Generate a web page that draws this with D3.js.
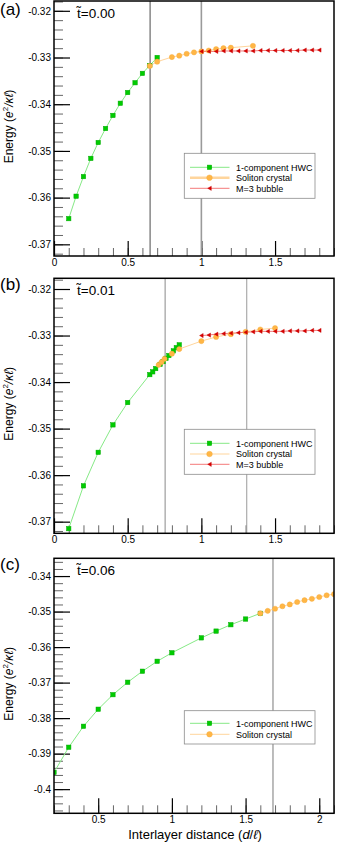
<!DOCTYPE html>
<html><head><meta charset="utf-8">
<script src="https://cdn.jsdelivr.net/npm/d3@7"></script>
<style>
body{margin:0;background:#fff}
svg{display:block}
text{font-family:"Liberation Sans",Arial,Helvetica,sans-serif;fill:#000}
</style>
</head><body>
<svg id="chart" width="337" height="844"></svg>
<script>
// ---------- data ----------
const seriesNames = ["1-component HWC", "Soliton crystal", "M=3 bubble"];
const panelLabels = ["(a)", "(b)", "(c)"];
const tValues = ["0.00", "0.01", "0.06"];

// panel (a), t = 0.00
const hwcA_x = [0.1,0.15,0.2,0.25,0.3,0.35,0.4,0.45,0.5,0.55,0.6,0.65,0.7];
const hwcA_y = [-0.3645,-0.3597,-0.3555,-0.3516,-0.3482,-0.3452,-0.3424,-0.3398,-0.3375,-0.3354,-0.3334,-0.3317,-0.3300];
const solA_x = [0.65,0.7,0.8,0.85,0.9,0.95,1.0,1.05,1.1,1.15,1.2,1.35];
const solA_y = [-0.3318,-0.3309,-0.3299,-0.3296,-0.3292,-0.3289,-0.3287,-0.3285,-0.3282,-0.3280,-0.3279,-0.3275];
const bubA_x = [1.0,1.05,1.1,1.15,1.2,1.25,1.3,1.35,1.4,1.45,1.5,1.55,1.6,1.65,1.7,1.75,1.8];
const bubA_y = [-0.3287,-0.3287,-0.3287,-0.3286,-0.3286,-0.3286,-0.3286,-0.3286,-0.3285,-0.3285,-0.3285,-0.3285,-0.3285,-0.3285,-0.3284,-0.3284,-0.3284];
const vlinesA = [0.652, 1.0];

// panel (b), t = 0.01
const hwcB_x = [0.1,0.2,0.3,0.4,0.5,0.65,0.67,0.69,0.72,0.74,0.76,0.78,0.81,0.83,0.85];
const hwcB_y = [-0.3715,-0.3623,-0.3551,-0.3492,-0.3444,-0.3384,-0.3378,-0.3371,-0.3362,-0.3356,-0.3349,-0.3343,-0.3333,-0.3326,-0.3320];
const solB_x = [0.71,0.73,0.75,0.8,0.85,1.0,1.1,1.2,1.3,1.4,1.5];
const solB_y = [-0.3363,-0.3357,-0.3350,-0.3339,-0.3329,-0.3312,-0.3303,-0.3297,-0.3292,-0.3287,-0.3284];
const bubB_x = [1.0,1.05,1.1,1.15,1.2,1.25,1.3,1.35,1.4,1.45,1.5,1.55,1.6,1.65,1.7,1.75,1.8];
const bubB_y = [-0.3300,-0.3299,-0.3297,-0.3296,-0.3295,-0.3294,-0.3293,-0.3292,-0.3291,-0.3291,-0.3291,-0.3291,-0.3290,-0.3290,-0.3290,-0.3289,-0.3289];
const vlinesB = [0.754, 1.308];

// panel (c), t = 0.06
const hwcC_x = [0.2,0.3,0.4,0.5,0.6,0.7,0.8,0.9,1.0,1.2,1.3,1.4,1.5,1.6];
const hwcC_y = [-0.3953,-0.3882,-0.3823,-0.3775,-0.3734,-0.3699,-0.3668,-0.3640,-0.3616,-0.3574,-0.3555,-0.3537,-0.3521,-0.3505];
const solC_x = [1.6,1.65,1.7,1.75,1.8,1.85,1.9,1.95,2.0,2.05,2.1];
const solC_y = [-0.3505,-0.3498,-0.3492,-0.3485,-0.3480,-0.3473,-0.3468,-0.3464,-0.3459,-0.3454,-0.3451];
const vlinesC = [1.686];

// ticks
const xTicksAB = [0, 0.5, 1, 1.5];
const xTickLabelsAB = ["0", "0.5", "1", "1.5"];
const xTicksC = [0.5, 1, 1.5, 2];
const xTickLabelsC = ["0.5", "1", "1.5", "2"];
const yTicksAB = [-0.37, -0.36, -0.35, -0.34, -0.33, -0.32];
const yTickLabelsAB = ["-0.37", "-0.36", "-0.35", "-0.34", "-0.33", "-0.32"];
const yTicksC = [-0.40, -0.39, -0.38, -0.37, -0.36, -0.35, -0.34];
const yTickLabelsC = ["-0.4", "-0.39", "-0.38", "-0.37", "-0.36", "-0.35", "-0.34"];

// ---------- styling / layout ----------
const style = {
  hwc: {line:"#86e986", fill:"#00cc00", stroke:"#00a800", shape:"square"},
  sol: {line:"#ffd59c", fill:"#ffb646", stroke:"#f5a838", shape:"circle"},
  bub: {line:"#f47a7a", fill:"#d90000", stroke:"#c00000", shape:"tri"}
};
const L = 54, R = 334, H = 255;
const zip = (xs, ys) => xs.map((x,i) => ({x, y: ys[i]}));

const panels = [
  {top:1, xDom:[0,1.9], yDom:[-0.3725,-0.3179], xTicks:xTicksAB, xLabels:xTickLabelsAB,
   yTicks:yTicksAB, yLabels:yTickLabelsAB, vlines:vlinesA,
   vcolors:["#4a4a4a","#9a9a9a"], vwidths:[1,1.6],
   series:[["hwc",zip(hwcA_x,hwcA_y)],["sol",zip(solA_x,solA_y)],["bub",zip(bubA_x,bubA_y)]],
   labelY:15, legTop:153.3, legH:45, rows:[14,24.4,35]},
  {top:278.3, xDom:[0,1.9], yDom:[-0.3725,-0.3177], xTicks:xTicksAB, xLabels:xTickLabelsAB,
   yTicks:yTicksAB, yLabels:yTickLabelsAB, vlines:vlinesB,
   vcolors:["#8a8a8a","#9a9a9a"], vwidths:[1,1],
   series:[["hwc",zip(hwcB_x,hwcB_y)],["sol",zip(solB_x,solB_y)],["bub",zip(bubB_x,bubB_y)]],
   labelY:290, legTop:429.3, legH:45, rows:[14,24.7,35]},
  {top:558.3, xDom:[0.2,2.1], yDom:[-0.4068,-0.335], xTicks:xTicksC, xLabels:xTickLabelsC,
   yTicks:yTicksC, yLabels:yTickLabelsC, vlines:vlinesC,
   vcolors:["#7a7a7a"], vwidths:[1],
   series:[["hwc",zip(hwcC_x,hwcC_y)],["sol",zip(solC_x,solC_y)]],
   labelY:570, legTop:710.7, legH:33.3, rows:[12.6,23.6]}
];

const svg = d3.select("#chart");

function drawMarker(g, kind, cx, cy, legend) {
  const s = style[kind];
  if (s.shape === "square") {
    const a = 4.4;
    g.append("rect").attr("x", cx - a/2).attr("y", cy - a/2).attr("width", a).attr("height", a)
      .attr("fill", s.fill).attr("stroke", s.stroke).attr("stroke-width", 0.5);
  } else if (s.shape === "circle") {
    g.append("circle").attr("cx", cx).attr("cy", cy).attr("r", legend ? 2.8 : 2.6)
      .attr("fill", s.fill).attr("stroke", s.stroke).attr("stroke-width", 0.4);
  } else {
    const w = 3.6, h = 2.1;
    g.append("path").attr("d", `M${cx - w/2},${cy}L${cx + w/2},${cy - h}L${cx + w/2},${cy + h}Z`)
      .attr("fill", s.fill).attr("stroke", s.stroke).attr("stroke-width", 0.4);
  }
}

panels.forEach((p, pi) => {
  const x = d3.scaleLinear().domain(p.xDom).range([L, R]);
  const y = d3.scaleLinear().domain(p.yDom).range([p.top + H, p.top]);
  const g = svg.append("g");
  const clipId = "clip" + pi;
  svg.append("clipPath").attr("id", clipId).append("rect")
    .attr("x", L).attr("y", p.top).attr("width", R - L).attr("height", H);

  // minor ticks y
  const yMinor = d3.range(Math.ceil(p.yDom[0] / 0.002), Math.floor(p.yDom[1] / 0.002) + 1)
    .map(k => +(k * 0.002).toFixed(4));
  g.append("g").attr("transform", `translate(${L},0)`)
    .call(d3.axisLeft(y).tickValues(yMinor).tickSize(-9).tickFormat(""))
    .call(a => a.select(".domain").remove())
    .call(a => a.selectAll("line").attr("stroke", "#666").attr("stroke-width", 1));
  // major ticks y
  g.append("g").attr("transform", `translate(${L},0)`)
    .call(d3.axisLeft(y).tickValues(p.yTicks).tickSize(-16).tickPadding(3)
      .tickFormat((d, i) => p.yLabels[i]))
    .call(a => a.select(".domain").remove())
    .call(a => a.selectAll("line").attr("stroke", "#000").attr("stroke-width", 1.2))
    .call(a => a.selectAll("text").attr("font-size", 10).attr("fill", "#000")
      .style("font-family", '"Liberation Sans",Arial,sans-serif'));

  // minor ticks x
  const xMinor = d3.range(Math.ceil(p.xDom[0] / 0.1 - 1e-6), Math.floor(p.xDom[1] / 0.1 + 1e-6) + 1)
    .map(k => +(k * 0.1).toFixed(2));
  g.append("g").attr("transform", `translate(0,${p.top + H})`)
    .call(d3.axisBottom(x).tickValues(xMinor).tickSize(-8).tickFormat(""))
    .call(a => a.select(".domain").remove())
    .call(a => a.selectAll("line").attr("stroke", "#666").attr("stroke-width", 1));
  g.append("g").attr("transform", `translate(0,${p.top + H})`)
    .call(d3.axisBottom(x).tickValues(p.xTicks).tickSize(-15).tickPadding(3)
      .tickFormat((d, i) => p.xLabels[i]))
    .call(a => a.select(".domain").remove())
    .call(a => a.selectAll("line").attr("stroke", "#000").attr("stroke-width", 1.2))
    .call(a => a.selectAll("text").attr("font-size", 10).attr("fill", "#000")
      .style("font-family", '"Liberation Sans",Arial,sans-serif'));

  // vertical lines
  p.vlines.forEach((v, i) => {
    g.append("line").attr("x1", x(v)).attr("x2", x(v)).attr("y1", p.top).attr("y2", p.top + H)
      .attr("stroke", p.vcolors[i]).attr("stroke-width", p.vwidths[i]);
  });

  // series
  const dg = g.append("g").attr("clip-path", `url(#${clipId})`);
  const line = d3.line().x(d => x(d.x)).y(d => y(d.y));
  p.series.forEach(([kind, data]) => {
    dg.append("path").datum(data).attr("d", line).attr("fill", "none")
      .attr("stroke", style[kind].line).attr("stroke-width", 1);
  });
  p.series.forEach(([kind, data]) => {
    data.forEach(d => drawMarker(dg, kind, x(d.x), y(d.y), false));
  });

  // frame
  g.append("rect").attr("x", L).attr("y", p.top).attr("width", R - L).attr("height", H)
    .attr("fill", "none").attr("stroke", "#000").attr("stroke-width", 1.5);

  // legend
  const lg = g.append("g");
  lg.append("rect").attr("x", 184.3).attr("y", p.legTop).attr("width", 130.7).attr("height", p.legH)
    .attr("fill", "#fff").attr("stroke", "#8c8c8c").attr("stroke-width", 0.8);
  p.series.forEach(([kind], i) => {
    const ry = p.legTop + p.rows[i];
    lg.append("line").attr("x1", 190).attr("x2", 229.5).attr("y1", ry).attr("y2", ry)
      .attr("stroke", style[kind].line).attr("stroke-width", kind === "sol" && pi === 0 ? 2.5 : 1);
    drawMarker(lg, kind, 209.5, ry, true);
    lg.append("text").attr("x", 236).attr("y", ry + 3.2).attr("font-size", 9)
      .text(seriesNames[i]);
  });

  // panel label
  g.append("text").attr("x", 0).attr("y", p.labelY).attr("font-size", 17).text(panelLabels[pi]);
  g.append("text").attr("x", 77).attr("y", p.top + 17).attr("font-size", 13.5)
    .text("t\u0303=" + tValues[pi]);

  // y axis title
  const yt = g.append("text").attr("transform", `translate(13,${p.top + H/2 - 2}) rotate(-90)`)
    .attr("text-anchor", "middle").attr("font-size", 12);
  yt.append("tspan").text("Energy (");
  yt.append("tspan").attr("font-style", "italic").text("e");
  yt.append("tspan").attr("font-size", 8).attr("dy", -5).text("2");
  yt.append("tspan").attr("dy", 5).attr("font-style", "italic").text("/\u03BA\u2113");
  yt.append("tspan").text(")");
});

// x axis title
const xt = svg.append("text").attr("x", 195).attr("y", 839).attr("text-anchor", "middle").attr("font-size", 13);
xt.append("tspan").text("Interlayer distance (");
xt.append("tspan").attr("font-style", "italic").text("d");
xt.append("tspan").text("/");
xt.append("tspan").attr("font-style", "italic").text("\u2113");
xt.append("tspan").text(")");
</script>
</body></html>
